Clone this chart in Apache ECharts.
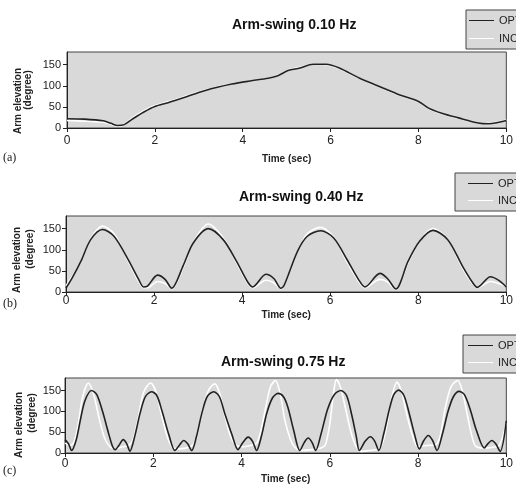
<!DOCTYPE html>
<html>
<head>
<meta charset="utf-8">
<script src="https://cdn.jsdelivr.net/npm/echarts@6/dist/echarts.min.js"></script>
<style>
  html, body { margin: 0; padding: 0; background: #fff; }
  #chart { width: 516px; height: 485px; }
</style>
</head>
<body>
<div id="chart"></div>
<script>
// panel (a) 0.10 Hz
var aT = [0, 0.4, 0.82, 1.0, 1.15, 1.3, 1.5, 1.75, 2.0, 2.3, 2.63, 3.15, 3.75, 4.2, 4.58, 4.8, 5.03, 5.3, 5.6, 5.9, 6.2, 6.66, 7.19, 7.56, 8.0, 8.23, 8.53, 8.91, 9.36, 9.6, 9.8, 10];
var aOpt = [22, 21, 17, 11, 6, 8, 22, 38, 51, 60, 71, 89, 104, 112, 118, 124, 136, 142, 151, 151, 142, 118, 95, 79, 63, 47, 35, 24, 12, 10, 13, 18];
var aInc = [18, 16, 14, 9, 4, 9, 25, 41, 53, 62, 73, 90, 105, 112, 118, 125, 137, 144, 151, 150, 141, 117, 94, 78, 62, 46, 34, 23, 12, 11, 14, 19];

// panel (b) 0.40 Hz
var bT = [0, 0.15, 0.34, 0.56, 0.83, 1.09, 1.39, 1.65, 1.76, 1.85, 2.08, 2.25, 2.4, 2.66, 2.89, 3.23, 3.57, 3.87, 4.13, 4.24, 4.54, 4.72, 4.88, 4.95, 5.26, 5.48, 5.78, 6.08, 6.38, 6.64, 6.79, 7.13, 7.3, 7.49, 7.77, 8.03, 8.33, 8.67, 9.0, 9.23, 9.34, 9.64, 9.82, 10];
var bOpt = [9, 35, 73, 124, 148, 132, 81, 30, 12, 14, 40, 30, 9, 62, 116, 150, 124, 73, 23, 12, 42, 32, 9, 15, 97, 132, 145, 128, 77, 30, 12, 44, 32, 7, 73, 120, 146, 124, 62, 23, 11, 36, 28, 12];
var bInc = [15, 38, 72, 126, 156, 138, 78, 25, 10, 10, 25, 20, 8, 58, 117, 161, 128, 70, 20, 10, 28, 22, 8, 14, 96, 138, 153, 130, 72, 26, 10, 30, 24, 6, 70, 120, 150, 125, 58, 20, 10, 25, 20, 14];

// panel (c) 0.75 Hz
var cOptT = [0, 0.08, 0.15, 0.25, 0.35, 0.45, 0.6, 0.72, 0.85, 0.98, 1.08, 1.14, 1.22, 1.32, 1.4, 1.47, 1.58, 1.7, 1.82, 1.96, 2.08, 2.2, 2.35, 2.49, 2.6, 2.69, 2.78, 2.87, 2.98, 3.1, 3.22, 3.37, 3.5, 3.62, 3.78, 3.92, 4.03, 4.15, 4.25, 4.34, 4.45, 4.57, 4.7, 4.83, 4.95, 5.05, 5.18, 5.32, 5.42, 5.51, 5.6, 5.68, 5.8, 5.95, 6.1, 6.25, 6.38, 6.5, 6.6, 6.67, 6.8, 6.92, 7.02, 7.11, 7.22, 7.35, 7.45, 7.56, 7.68, 7.8, 7.92, 8.03, 8.13, 8.23, 8.33, 8.43, 8.55, 8.68, 8.8, 8.93, 9.05, 9.18, 9.32, 9.5, 9.58, 9.67, 9.76, 9.86, 10];
var cOpt = [32, 22, 6, 30, 80, 125, 150, 140, 100, 50, 15, 8, 18, 32, 22, 4, 40, 95, 135, 147, 138, 100, 45, 6, 20, 30, 22, 6, 40, 95, 135, 147, 135, 95, 45, 8, 25, 38, 28, 6, 40, 95, 132, 143, 135, 110, 55, 6, 25, 36, 25, 6, 45, 105, 140, 150, 138, 90, 40, 6, 28, 39, 28, 6, 45, 105, 140, 151, 138, 95, 45, 10, 30, 42, 30, 6, 45, 100, 135, 148, 140, 105, 55, 12, 22, 30, 22, 4, 77];
var cIncT = [0, 0.1, 0.2, 0.3, 0.4, 0.53, 0.65, 0.78, 0.9, 1.02, 1.13, 1.3, 1.45, 1.55, 1.65, 1.78, 1.94, 2.05, 2.18, 2.3, 2.42, 2.55, 2.75, 2.9, 3.0, 3.12, 3.25, 3.39, 3.5, 3.62, 3.75, 3.88, 4.05, 4.2, 4.33, 4.42, 4.55, 4.66, 4.77, 4.88, 4.98, 5.1, 5.2, 5.35, 5.6, 5.8, 5.9, 6.0, 6.08, 6.15, 6.25, 6.35, 6.48, 6.6, 6.71, 6.9, 7.1, 7.2, 7.3, 7.42, 7.52, 7.62, 7.75, 7.88, 7.99, 8.2, 8.4, 8.5, 8.62, 8.75, 8.9, 9.0, 9.12, 9.22, 9.31, 9.5, 9.7, 9.84, 10];
var cInc = [24, 18, 25, 70, 135, 168, 140, 80, 35, 15, 10, 15, 18, 35, 80, 145, 168, 150, 95, 45, 15, 10, 12, 20, 45, 105, 150, 166, 145, 90, 40, 18, 15, 18, 22, 45, 110, 160, 174, 140, 80, 35, 15, 6, 8, 12, 20, 70, 140, 176, 155, 110, 50, 15, 4, 6, 10, 25, 70, 140, 170, 150, 90, 40, 16, 18, 20, 40, 110, 160, 174, 150, 90, 40, 16, 12, 14, 18, 73];

var titles = ['Arm-swing 0.10 Hz', 'Arm-swing 0.40 Hz', 'Arm-swing 0.75 Hz'];
var yTicks = [0, 50, 100, 150];

function pairs(t, v) {
  return t.map(function (x, i) { return [x, v[i]]; });
}

var grids = [
  { left: 67, top: 52, width: 443, height: 76 },
  { left: 66, top: 216, width: 442, height: 76 },
  { left: 65, top: 378, width: 443, height: 76 }
];
var labelMargin = [7, 3, 5];
var nameGap = [26, 18, 21];
var yMargin = [6, 5, 4];

function xAx(i) {
  return {
    gridIndex: i, type: 'value', min: 0, max: 10, interval: 2,
    name: 'Time (sec)', nameLocation: 'middle', nameGap: nameGap[i],
    nameTextStyle: { fontWeight: 'bold', fontSize: 10, color: '#222' },
    axisLine: { lineStyle: { color: '#222' } },
    axisTick: { length: 4, lineStyle: { color: '#222' } },
    axisLabel: { fontSize: 12, color: '#222', margin: labelMargin[i] },
    splitLine: { show: false }
  };
}
function yAx(i) {
  return {
    gridIndex: i, type: 'value', min: 0, max: 180,
    axisLine: { show: true, lineStyle: { color: '#222' } },
    axisTick: { show: true, length: 4, customValues: yTicks, lineStyle: { color: '#222' } },
    axisLabel: { fontSize: 11, color: '#222', margin: yMargin[i], customValues: yTicks },
    splitLine: { show: false }
  };
}
function line(name, i, data, color) {
  return {
    name: name, type: 'line', xAxisIndex: i, yAxisIndex: i, data: data,
    symbol: 'none', smooth: 0.3, color: color,
    lineStyle: { color: color, width: 1.6 }, silent: true, animation: false
  };
}
function legend(left, top, padLeft, gap) {
  return {
    data: ['OPT', 'INC'], orient: 'vertical', left: left, top: top,
    icon: 'rect', itemWidth: 25, itemHeight: 1, itemGap: gap,
    backgroundColor: '#d9d9d9', borderColor: '#444', borderWidth: 1, borderRadius: 0,
    padding: [4, 40, 4, padLeft],
    textStyle: { fontSize: 11, color: '#222', lineHeight: 13 }
  };
}

var titleLeft = [232, 239, 221];
var titleTop = [18, 190, 355];

var option = {
  animation: false,
  textStyle: { fontFamily: 'Liberation Sans, Arial, sans-serif' },
  title: titles.map(function (t, i) {
    return { text: t, left: titleLeft[i], top: titleTop[i], padding: 0,
      textStyle: { fontSize: 14, fontWeight: 'bold', color: '#111' } };
  }),
  legend: [legend(466, 10, 3, 5), legend(455, 173, 13, 4), legend(463, 335, 5, 4)],
  grid: grids.map(function (g) {
    return Object.assign({ show: true, backgroundColor: '#d9d9d9', borderColor: '#444', borderWidth: 1 }, g);
  }),
  xAxis: [xAx(0), xAx(1), xAx(2)],
  yAxis: [yAx(0), yAx(1), yAx(2)],
  series: [
    line('INC', 0, pairs(aT, aInc), '#ffffff'),
    line('OPT', 0, pairs(aT, aOpt), '#222222'),
    line('INC', 1, pairs(bT, bInc), '#ffffff'),
    line('OPT', 1, pairs(bT, bOpt), '#222222'),
    line('INC', 2, pairs(cIncT, cInc), '#ffffff'),
    line('OPT', 2, pairs(cOptT, cOpt), '#222222')
  ],
  graphic: [
    { type: 'text', x: 3, y: 152, style: { text: '(a)', font: '12px "Liberation Serif", serif', fill: '#222' } },
    { type: 'text', x: 3, y: 298, style: { text: '(b)', font: '12px "Liberation Serif", serif', fill: '#222' } },
    { type: 'text', x: 3, y: 465, style: { text: '(c)', font: '12px "Liberation Serif", serif', fill: '#222' } },
    { type: 'text', x: 18, y: 101, rotation: Math.PI / 2, style: { text: 'Arm elevation', font: 'bold 10px "Liberation Sans", Arial', fill: '#222', align: 'center', verticalAlign: 'middle' } },
    { type: 'text', x: 28, y: 90, rotation: Math.PI / 2, style: { text: '(degree)', font: 'bold 10px "Liberation Sans", Arial', fill: '#222', align: 'center', verticalAlign: 'middle' } },
    { type: 'text', x: 17, y: 260, rotation: Math.PI / 2, style: { text: 'Arm elevation', font: 'bold 10px "Liberation Sans", Arial', fill: '#222', align: 'center', verticalAlign: 'middle' } },
    { type: 'text', x: 30, y: 249, rotation: Math.PI / 2, style: { text: '(degree)', font: 'bold 10px "Liberation Sans", Arial', fill: '#222', align: 'center', verticalAlign: 'middle' } },
    { type: 'text', x: 19, y: 425, rotation: Math.PI / 2, style: { text: 'Arm elevation', font: 'bold 10px "Liberation Sans", Arial', fill: '#222', align: 'center', verticalAlign: 'middle' } },
    { type: 'text', x: 32, y: 413, rotation: Math.PI / 2, style: { text: '(degree)', font: 'bold 10px "Liberation Sans", Arial', fill: '#222', align: 'center', verticalAlign: 'middle' } }
  ]
};

var chart = echarts.init(document.getElementById('chart'), null, { renderer: 'canvas' });
chart.setOption(option);
</script>
</body>
</html>
